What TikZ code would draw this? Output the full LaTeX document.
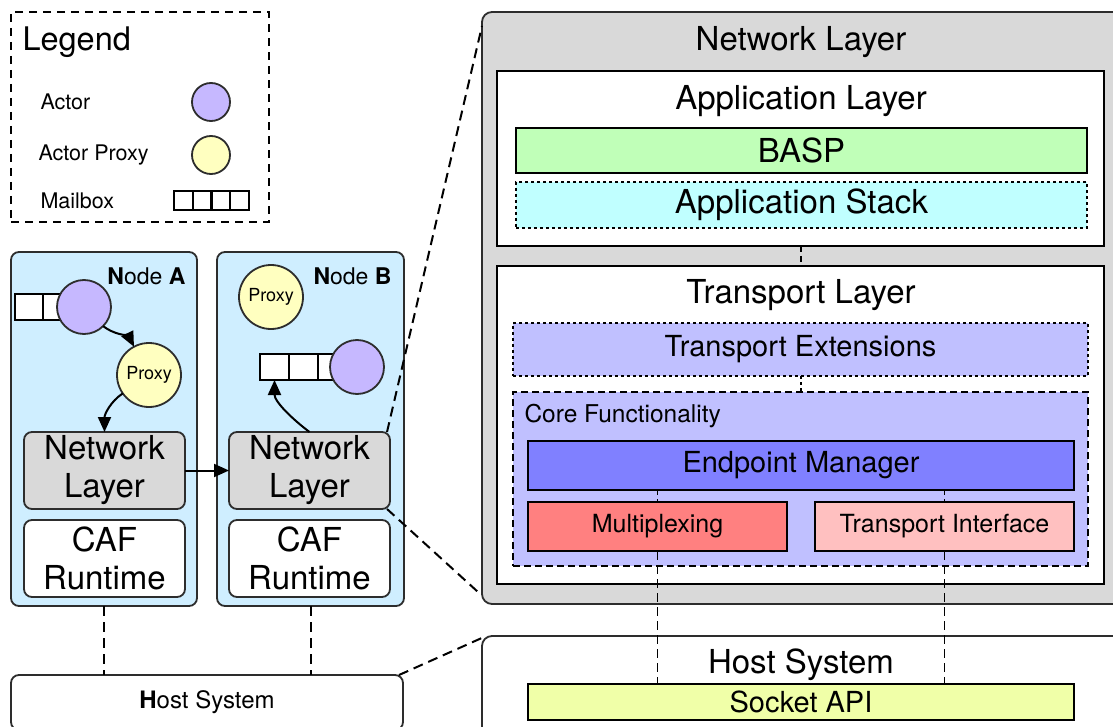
\documentclass[tikz,border=0pt]{standalone}
\usepackage{fontspec}
\setmainfont{TeX Gyre Heros}
\usetikzlibrary{arrows.meta,calc}
\definecolor{nodeblue}{RGB}{207,238,255}
\definecolor{actorc}{RGB}{198,184,255}
\definecolor{proxyc}{RGB}{255,255,192}
\definecolor{grayc}{RGB}{217,217,217}
\definecolor{bordc}{RGB}{45,45,45}
\definecolor{baspc}{RGB}{192,255,184}
\definecolor{stackc}{RGB}{192,255,255}
\definecolor{lavc}{RGB}{192,192,255}
\definecolor{epc}{RGB}{128,128,255}
\definecolor{muxc}{RGB}{255,128,128}
\definecolor{tic}{RGB}{255,192,192}
\definecolor{sockc}{RGB}{240,255,168}
\begin{document}
\begin{tikzpicture}[x=1pt,y=-1pt,
  bx/.style={draw, rectangle, inner sep=0pt, outer sep=0pt, anchor=north west, line width=2.2pt},
  rbx/.style={bx, rounded corners=8pt, draw=bordc, line width=1.8pt},
  big/.style={font=\fontsize{33}{37}\selectfont},
  mid/.style={font=\fontsize{29}{33}\selectfont},
  two/.style={align=center, font=\fontsize{33}{38}\selectfont},
  sml/.style={font=\fontsize{21.5}{25}\selectfont},
  cell/.style={draw, line width=2.2pt, fill=white, rectangle, inner sep=0pt, outer sep=0pt, anchor=north west},
  actor/.style={draw=bordc, line width=1.8pt, fill=actorc, circle, inner sep=0pt, outer sep=0pt},
  proxy/.style={draw=bordc, line width=1.8pt, fill=proxyc, circle, inner sep=0pt, outer sep=0pt, font=\fontsize{18}{22}\selectfont},
  arr/.style={line width=2pt, -{Triangle[length=15pt,width=13pt]}},
  dsh/.style={line width=2pt, dash pattern=on 10pt off 6pt},
  dsm/.style={line width=2pt, dash pattern=on 6pt off 4pt}
]
\useasboundingbox (0,0) rectangle (1113,727);
\clip (0,0) rectangle (1113,727);

% ---------- Legend ----------
\node[bx, line width=2.2pt, dash pattern=on 8pt off 6pt, minimum width=258pt, minimum height=210pt] (legend) at (11,12) {};
\node[big, anchor=west, font=\fontsize{32.5}{36}\selectfont] (legt) at (19,42) {Legend};
\node[sml, anchor=west] (lact) at (37,102) {Actor};
\node[sml, anchor=west] (lprx) at (35,155) {Actor Proxy};
\node[sml, anchor=west] (lmb) at (37,201) {Mailbox};
\node[actor, minimum size=38pt] (lacto) at (211,102) {};
\node[proxy, minimum size=38pt] (lprxo) at (211,155) {};
\foreach \i in {0,1,2,3}{
  \node[cell, minimum width=18.75pt, minimum height=19pt] (lmb\i) at (174+18.75*\i,191) {};
}

% ---------- Node A ----------
\node[rbx, fill=nodeblue, minimum width=186pt, minimum height=354pt] (nodeA) at (11,252) {};
\node[anchor=east, font=\fontsize{23}{27}\selectfont] (nodeAt) at (189,276) {\textbf{N}ode \textbf{A}};
\node[cell, minimum width=28pt, minimum height=26pt] (mbA1) at (15,294) {};
\node[cell, minimum width=28pt, minimum height=26pt] (mbA2) at (43,294) {};
\node[cell, minimum width=28pt, minimum height=26pt] (mbA3) at (71,294) {};
\node[actor, minimum size=54pt] (actA) at (84,307) {};
\node[proxy, minimum size=64pt] (proxA) at (149,375) {Proxy};
\node[rbx, fill=grayc, minimum width=161pt, minimum height=77pt] (nlA) at (24,432) {};
\node[two] (nlAt) at (nlA) {Network\\Layer};
\node[rbx, fill=white, minimum width=161pt, minimum height=77pt] (cafA) at (24,520) {};
\node[two] (cafAt) at (cafA) {CAF\\Runtime};

% ---------- Node B ----------
\node[rbx, fill=nodeblue, minimum width=187pt, minimum height=354pt] (nodeB) at (217,252) {};
\node[anchor=east, font=\fontsize{23}{27}\selectfont] (nodeBt) at (395,276) {\textbf{N}ode \textbf{B}};
\node[proxy, minimum size=64pt] (proxB) at (271,297) {Proxy};
\node[cell, minimum width=29pt, minimum height=26pt] (mbB1) at (260,354) {};
\node[cell, minimum width=29pt, minimum height=26pt] (mbB2) at (289,354) {};
\node[cell, minimum width=29pt, minimum height=26pt] (mbB3) at (318,354) {};
\node[actor, minimum size=54pt] (actB) at (357,367) {};
\node[rbx, fill=grayc, minimum width=161pt, minimum height=77pt] (nlB) at (229,432) {};
\node[two] (nlBt) at (nlB) {Network\\Layer};
\node[rbx, fill=white, minimum width=161pt, minimum height=77pt] (cafB) at (229,520) {};
\node[two] (cafBt) at (cafB) {CAF\\Runtime};

% ---------- Host system (left) ----------
\node[rbx, fill=white, minimum width=392pt, minimum height=55pt] (hostL) at (11,675) {};
\node[font=\fontsize{24}{28}\selectfont] (hostLt) at (207,702) {\textbf{H}ost System};

% ---------- Right: Network Layer ----------
\node[rbx, fill=grayc, rounded corners=10pt, minimum width=660pt, minimum height=592pt] (netbig) at (482,12) {};
\node[big] (netbigt) at (801,42) {Network Layer};
\node[bx, fill=white, minimum width=607pt, minimum height=175pt] (appL) at (497,71) {};
\node[big] (appLt) at (801,101) {Application Layer};
\node[bx, fill=baspc, minimum width=571pt, minimum height=45pt] (basp) at (516,128) {};
\node[big] (baspt) at (basp) {BASP};
\node[bx, fill=stackc, dash pattern=on 3pt off 3pt, minimum width=571pt, minimum height=46pt] (stack) at (516,182) {};
\node[big] (stackt) at (stack) {Application Stack};

\node[bx, fill=white, minimum width=607pt, minimum height=318pt] (trL) at (497,266) {};
\node[big] (trLt) at (801,295) {Transport Layer};
\node[bx, fill=lavc, dash pattern=on 3pt off 3pt, minimum width=575pt, minimum height=53pt] (trext) at (513,323) {};
\node[mid] (trextt) at (trext) {Transport Extensions};
\node[bx, fill=lavc, dash pattern=on 7pt off 4pt, minimum width=575pt, minimum height=174pt] (core) at (513,392) {};
\node[anchor=west, font=\fontsize{24.5}{28}\selectfont] (coret) at (521,416) {Core Functionality};
\node[bx, fill=epc, minimum width=546pt, minimum height=49pt] (ep) at (528,441) {};
\node[mid] (ept) at (ep) {Endpoint Manager};
\node[bx, fill=muxc, minimum width=259pt, minimum height=49pt] (mux) at (528,502) {};
\node[font=\fontsize{25}{29}\selectfont] (muxt) at (mux) {Multiplexing};
\node[bx, fill=tic, minimum width=259pt, minimum height=49pt] (ti) at (815,502) {};
\node[font=\fontsize{25}{29}\selectfont] (tit) at (ti) {Transport Interface};

% ---------- Right: Host system ----------
\node[rbx, fill=white, rounded corners=10pt, minimum width=660pt, minimum height=120pt] (hostR) at (482,636) {};
\node[big] (hostRt) at (801,665) {Host System};
\node[bx, fill=sockc, minimum width=546pt, minimum height=36pt] (sock) at (528,684) {};
\node[mid] (sockt) at (sock) {Socket API};

% ---------- connectors ----------
\draw[arr] (actA.-45) .. controls +(10,8) and +(-5,-10) .. (proxA.118);
\draw[arr] (proxA.215) .. controls +(-12,8) and +(0,-18) .. (nlA.north);
\draw[arr] (nlB.north) .. controls +(-16,-12) and +(0,22) .. (mbB1.south);
\draw[arr] (nlA.east) -- (nlB.west);

\draw[dsh] (nodeA.south) -- (nodeA.south |- hostL.north);
\draw[dsh] (nodeB.south) -- (nodeB.south |- hostL.north);

\draw[dsh] ($(nlB.north east)+(-3,0)$) -- ($(netbig.north west)+(0,14)$);
\draw[dsh] ($(nlB.south east)+(-3,0)$) -- ($(netbig.south west)+(-4,-12)$);
\draw[dsh] ($(hostL.north east)+(-4,0)$) -- ($(hostR.north west)+(2,1)$);

\draw[dsm] (appL.south) -- (trL.north);
\draw[line width=2pt, dash pattern=on 3pt off 3pt] (trext.south) -- (core.north);
\draw[line width=1.5pt, dash pattern=on 5pt off 4pt] (ep.south -| mux.north) -- (mux.north);
\draw[line width=1.5pt, dash pattern=on 5pt off 4pt] (ep.south -| ti.north) -- (ti.north);
\draw[line width=1.8pt, dash pattern=on 9pt off 5pt] (mux.south) -- (mux.south |- sock.north);
\draw[line width=1.8pt, dash pattern=on 9pt off 5pt] (ti.south) -- (ti.south |- sock.north);
\end{tikzpicture}
\end{document}
